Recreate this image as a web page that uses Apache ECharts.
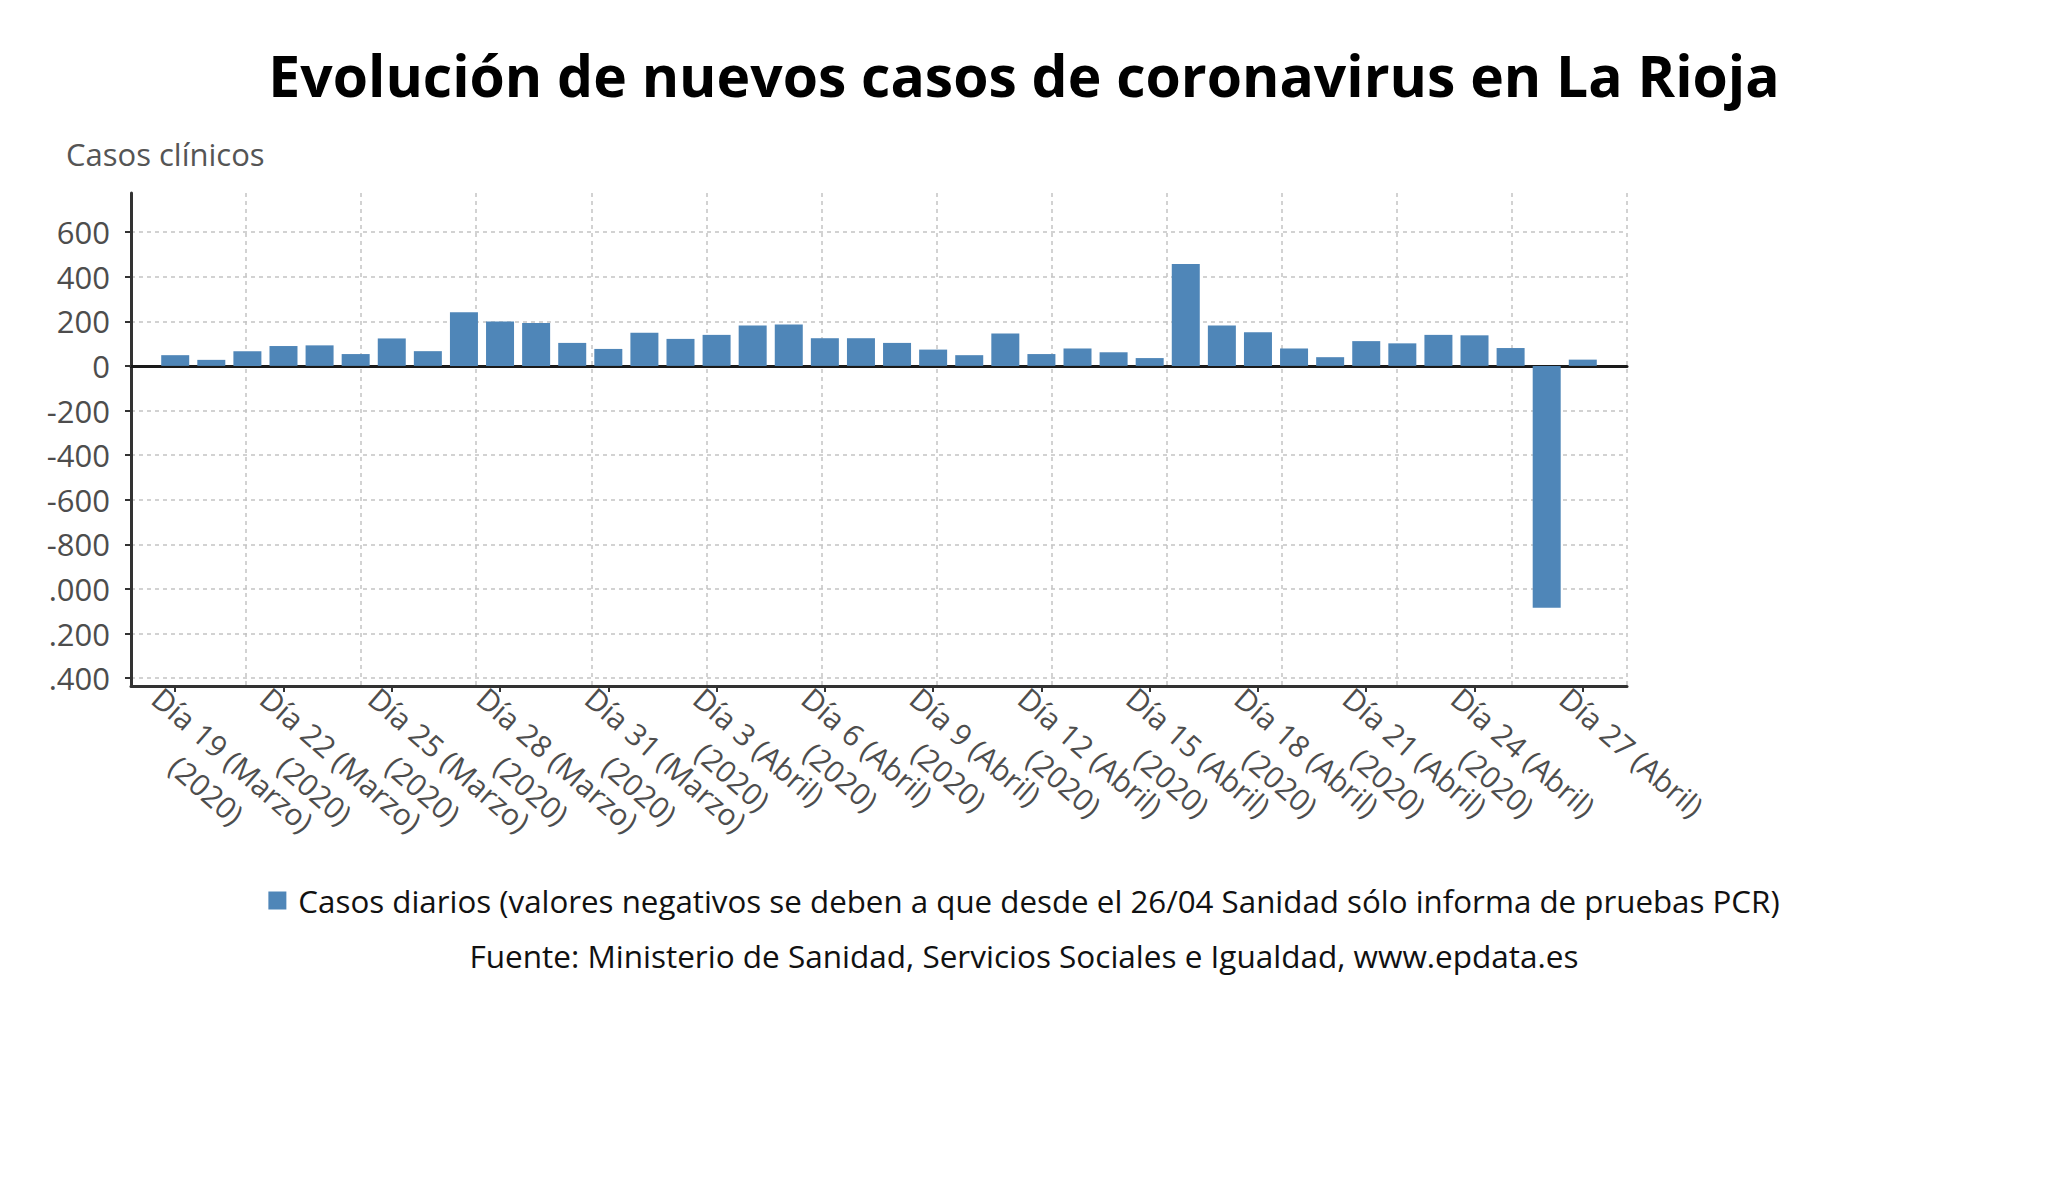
<!DOCTYPE html>
<html>
<head>
<meta charset="utf-8">
<script src="https://cdn.jsdelivr.net/npm/echarts@6/dist/echarts.min.js"></script>
<style>
html,body{margin:0;padding:0;background:#fff;}
#chart{width:2048px;height:1203px;}
</style>
</head>
<body>
<div id="chart"></div>
<script>
// ---- data ----
const categories = [
  'Día 19 (Marzo)','Día 20 (Marzo)','Día 21 (Marzo)','Día 22 (Marzo)','Día 23 (Marzo)',
  'Día 24 (Marzo)','Día 25 (Marzo)','Día 26 (Marzo)','Día 27 (Marzo)','Día 28 (Marzo)',
  'Día 29 (Marzo)','Día 30 (Marzo)','Día 31 (Marzo)','Día 1 (Abril)','Día 2 (Abril)',
  'Día 3 (Abril)','Día 4 (Abril)','Día 5 (Abril)','Día 6 (Abril)','Día 7 (Abril)',
  'Día 8 (Abril)','Día 9 (Abril)','Día 10 (Abril)','Día 11 (Abril)','Día 12 (Abril)',
  'Día 13 (Abril)','Día 14 (Abril)','Día 15 (Abril)','Día 16 (Abril)','Día 17 (Abril)',
  'Día 18 (Abril)','Día 19 (Abril)','Día 20 (Abril)','Día 21 (Abril)','Día 22 (Abril)',
  'Día 23 (Abril)','Día 24 (Abril)','Día 25 (Abril)','Día 26 (Abril)','Día 27 (Abril)'
];
const casosDiarios = [
  48, 27, 66, 89, 92, 53, 123, 66, 240, 199,
  192, 103, 76, 148, 121, 139, 181, 186, 124, 124,
  103, 73, 48, 145, 53, 78, 61, 35, 457, 181,
  151, 78, 39, 111, 101, 139, 137, 80, -1084, 28
];
const xTickIndices = [0, 3, 6, 9, 12, 15, 18, 21, 24, 27, 30, 33, 36, 39];
const xTickLabels = [
  'Día 19 (Marzo)\n(2020)', 'Día 22 (Marzo)\n(2020)', 'Día 25 (Marzo)\n(2020)',
  'Día 28 (Marzo)\n(2020)', 'Día 31 (Marzo)\n(2020)', 'Día 3 (Abril)\n(2020)',
  'Día 6 (Abril)\n(2020)', 'Día 9 (Abril)\n(2020)', 'Día 12 (Abril)\n(2020)',
  'Día 15 (Abril)\n(2020)', 'Día 18 (Abril)\n(2020)', 'Día 21 (Abril)\n(2020)',
  'Día 24 (Abril)\n(2020)', 'Día 27 (Abril)'
];
const yTickValues = [-1400, -1200, -1000, -800, -600, -400, -200, 0, 200, 400, 600];
const yTickLabels = ['.400', '.200', '.000', '-800', '-600', '-400', '-200', '0', '200', '400', '600'];
const seriesName = 'Casos diarios (valores negativos se deben a que desde el 26/04 Sanidad sólo informa de pruebas PCR)';
const titleText = 'Evolución de nuevos casos de coronavirus en La Rioja';
const yAxisTitle = 'Casos clínicos';
const sourceText = 'Fuente: Ministerio de Sanidad, Servicios Sociales e Igualdad, www.epdata.es';

// ---- chart ----
const FONT = '"Open Sans", "Noto Sans", sans-serif';
const chart = echarts.init(document.getElementById('chart'), null, {renderer: 'svg'});
const gridDivisions = 13;

chart.setOption({
  animation: false,
  backgroundColor: '#ffffff',
  title: [
    {text: titleText, left: 'center', top: 41,
     textStyle: {fontFamily: FONT, fontSize: 57, fontWeight: 'bold', color: '#000'}},
    {text: yAxisTitle, left: 61, top: 133,
     textStyle: {fontFamily: FONT, fontSize: 31, fontWeight: 'normal', color: '#555'}},
    {text: sourceText, left: 'center', top: 934,
     textStyle: {fontFamily: FONT, fontSize: 31.5, fontWeight: 'normal', color: '#111'}}
  ],
  legend: {
    data: [seriesName], left: 'center', top: 880,
    icon: 'rect', itemWidth: 18, itemHeight: 18, itemGap: 10,
    textStyle: {fontFamily: FONT, fontSize: 31.3, color: '#111', padding: [0, 0, 0, 7]}
  },
  grid: {left: 131, right: 421, top: 193, bottom: 517, containLabel: false},
  xAxis: [
    {
      type: 'value', min: -1.225, max: 40.225, position: 'bottom',
      axisLine: {show: true, onZero: false, lineStyle: {color: '#333', width: 3}},
      axisTick: {show: true, customValues: xTickIndices, length: 6, lineStyle: {color: '#333', width: 2}},
      splitLine: {show: false},
      axisLabel: {
        show: true, customValues: xTickIndices, rotate: -41,
        align: 'left', verticalAlign: 'top', margin: -13.5, padding: [8, 0, 0, 0],
        formatter: function (v) {
          const k = xTickIndices.indexOf(Math.round(v));
          return xTickLabels[k].split('\n').map(s => '{c|' + s + '}').join('\n');
        },
        rich: {c: {align: 'center', fontFamily: FONT, fontSize: 30, lineHeight: 40, color: '#4d4d4d'}}
      }
    },
    {
      type: 'value', min: 0, max: gridDivisions, interval: 1,
      axisLine: {show: true, onZero: true, lineStyle: {color: '#1a1a1a', width: 3}},
      axisTick: {show: false}, axisLabel: {show: false},
      splitLine: {show: true, lineStyle: {color: '#c4c4c4', width: 1.5, type: [4, 4]}}
    }
  ],
  yAxis: {
    type: 'value', min: -1435, max: 775,
    axisLine: {show: true, onZero: false, lineStyle: {color: '#333', width: 3}},
    axisTick: {show: true, customValues: yTickValues, length: 6, lineStyle: {color: '#333', width: 2}},
    axisLabel: {
      show: true, customValues: yTickValues, margin: 21,
      fontFamily: FONT, fontSize: 31, color: '#4d4d4d',
      formatter: function (v) { return yTickLabels[yTickValues.indexOf(v)]; }
    },
    splitLine: {show: true, lineStyle: {color: '#c4c4c4', width: 1.5, type: [4, 4]}}
  },
  series: [{
    name: seriesName, type: 'bar', xAxisIndex: 0, yAxisIndex: 0,
    barWidth: 28, z: 3,
    itemStyle: {color: '#4f86b8'},
    data: casosDiarios.map((v, i) => [i, v])
  }]
});
</script>
</body>
</html>
